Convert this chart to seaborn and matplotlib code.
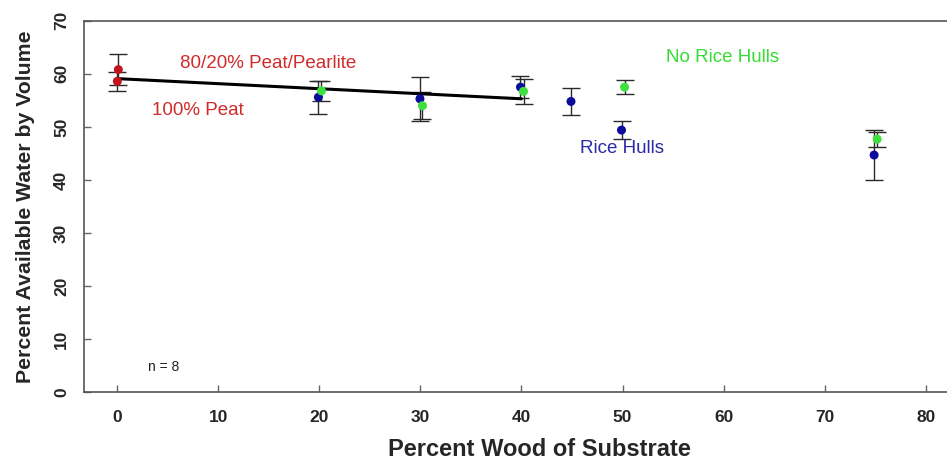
import numpy as np
import pandas as pd
import seaborn as sns
import matplotlib.pyplot as plt

# Values
peat_x = [0.1, 0.0]
peat_y = [60.8, 58.6]
peat_err = [2.9, 1.8]

rice_x = [19.9, 29.95, 39.9, 44.9, 49.9, 74.9]
rice_y = [55.6, 55.3, 57.5, 54.8, 49.4, 44.7]
rice_err = [3.1, 4.1, 2.1, 2.55, 1.65, 4.7]

norice_x = [20.2, 30.2, 40.2, 50.2, 75.2]
norice_y = [56.8, 54.0, 56.7, 57.5, 47.7]
norice_err = [1.9, 2.6, 2.3, 1.25, 1.4]

fit_x = [0, 40]
fit_y = [59.1, 55.3]

red = '#c0141e'
blue = '#0c0c9c'
green = '#3ee03e'

sns.set_style("ticks")
plt.rcParams['font.family'] = ['Liberation Sans', 'DejaVu Sans']

data = pd.concat([
    pd.DataFrame({'x': peat_x, 'y': peat_y, 'err': peat_err, 'group': 'peat'}),
    pd.DataFrame({'x': rice_x, 'y': rice_y, 'err': rice_err, 'group': 'rice'}),
    pd.DataFrame({'x': norice_x, 'y': norice_y, 'err': norice_err, 'group': 'norice'}),
], ignore_index=True)

fig = plt.figure(figsize=(9.47, 4.62), dpi=100)
# the original plot box runs past the right edge of the picture
ax = fig.add_axes([0.089, 0.151, 0.961, 0.804])

# error bars first, points on top
ax.errorbar(data['x'], data['y'], yerr=data['err'], fmt='none', ecolor='#2a2a2a',
            elinewidth=1.0, capsize=6.5, capthick=1.0, zorder=2)

sns.lineplot(x=fit_x, y=fit_y, color='black', linewidth=2.2, ax=ax, zorder=3)

sns.scatterplot(data=data, x='x', y='y', hue='group',
                palette={'peat': red, 'rice': blue, 'norice': green},
                s=42, edgecolor='none', legend=False, ax=ax, zorder=4)

ax.text(6.2, 61.9, '80/20% Peat/Pearlite', color='#d22a2a', fontsize=13.5, va='center')
ax.text(3.4, 53.0, '100% Peat', color='#d22a2a', fontsize=13.5, va='center')
ax.text(54.3, 63.0, 'No Rice Hulls', color='#34dc34', fontsize=13.5, va='center')
ax.text(45.8, 45.9, 'Rice Hulls', color='#2a2aa8', fontsize=13.5, va='center')
ax.text(3.0, 4.8, 'n = 8', color='#222222', fontsize=10, va='center')

ax.set_xlim(-3.27, 86.8)
ax.set_ylim(0, 70)
ax.set_xticks(np.arange(0, 81, 10))
ax.set_yticks(np.arange(0, 71, 10))

ax.tick_params(direction='in', length=5, width=1, color='#666666', labelsize=12.5)
ax.tick_params(axis='x', pad=13)
ax.tick_params(axis='y', pad=11)
for lab in ax.get_xticklabels() + ax.get_yticklabels():
    lab.set_fontweight('bold')
for lab in ax.get_yticklabels():
    lab.set_rotation(90)
    lab.set_va('center')

for side in ['left', 'bottom', 'top', 'right']:
    ax.spines[side].set_color('#555555')
    ax.spines[side].set_linewidth(1.2)

ax.set_xlabel('Percent Wood of Substrate', fontsize=17, fontweight='bold', labelpad=9)
ax.set_ylabel('Percent Available Water by Volume', fontsize=15.3, fontweight='bold', labelpad=14)

fig.savefig('out.png', dpi=100)
